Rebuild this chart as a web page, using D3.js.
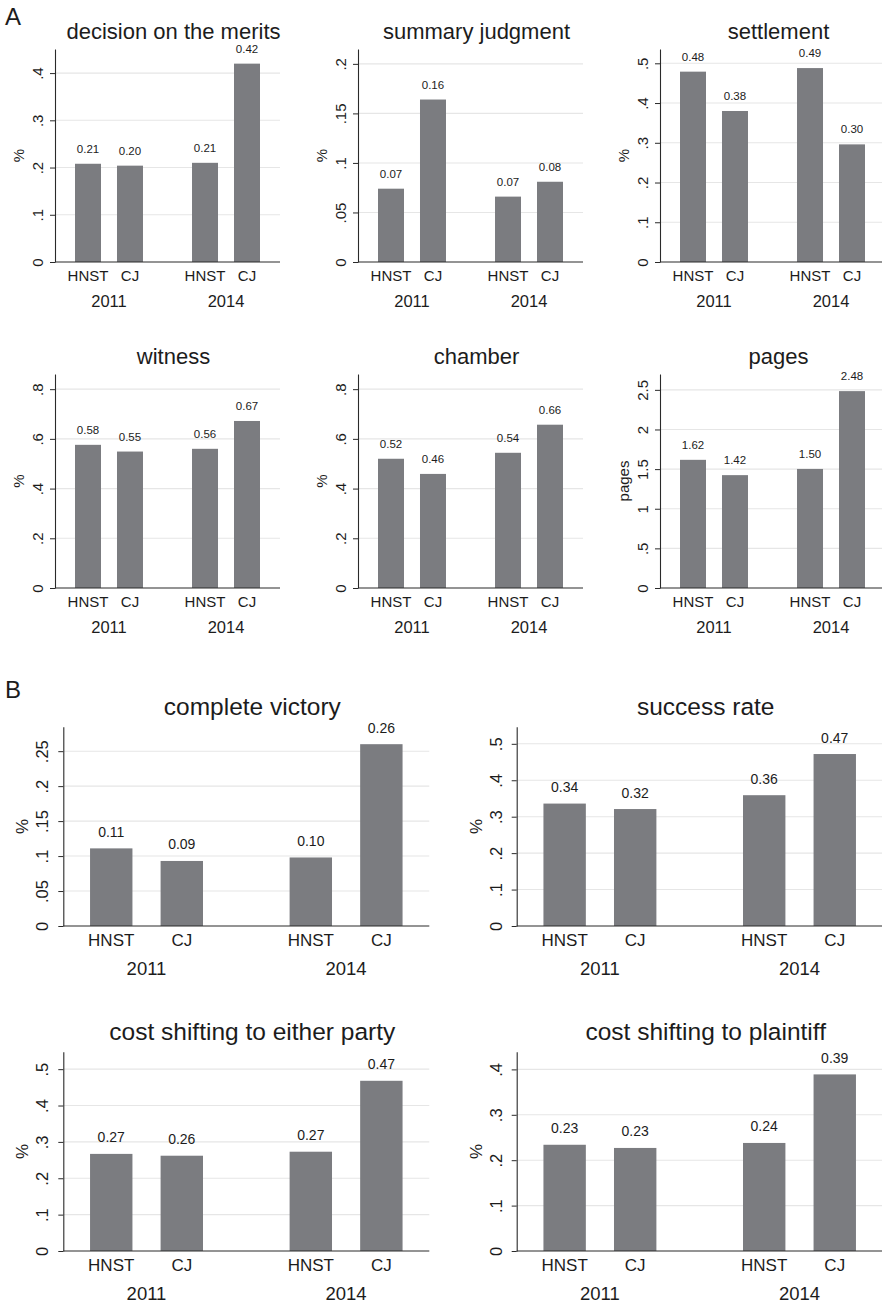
<!DOCTYPE html>
<html>
<head>
<meta charset="utf-8">
<script src="https://cdn.jsdelivr.net/npm/d3@7"></script>
<style>
  body { margin: 0; background: #fff; }
  svg { display: block; font-family: "Liberation Sans", Arial, Helvetica, sans-serif; }
</style>
</head>
<body>
<div id="fig"></div>
<script>
var years = ["2011", "2014"];
var courts = ["HNST", "CJ"];

// panel A: bar order is HNST 2011, CJ 2011, HNST 2014, CJ 2014
var titlesA = ["decision on the merits", "summary judgment", "settlement", "witness", "chamber", "pages"];
var yLabelsA = ["%", "%", "%", "%", "%", "pages"];
var valuesA = [
  [0.208, 0.204, 0.210, 0.420],
  [0.074, 0.164, 0.066, 0.081],
  [0.479, 0.380, 0.488, 0.296],
  [0.576, 0.549, 0.560, 0.672],
  [0.520, 0.459, 0.544, 0.657],
  [1.617, 1.424, 1.502, 2.484]
];
var ticksA = [
  [0, 0.1, 0.2, 0.3, 0.4],
  [0, 0.05, 0.1, 0.15, 0.2],
  [0, 0.1, 0.2, 0.3, 0.4, 0.5],
  [0, 0.2, 0.4, 0.6, 0.8],
  [0, 0.2, 0.4, 0.6, 0.8],
  [0, 0.5, 1, 1.5, 2, 2.5]
];
var yMaxA = [0.451, 0.215, 0.536, 0.861, 0.861, 2.70];

// panel B
var titlesB = ["complete victory", "success rate", "cost shifting to either party", "cost shifting to plaintiff"];
var yLabelsB = ["%", "%", "%", "%"];
var valuesB = [
  [0.111, 0.093, 0.098, 0.260],
  [0.336, 0.321, 0.359, 0.472],
  [0.267, 0.262, 0.273, 0.468],
  [0.234, 0.227, 0.238, 0.389]
];
var ticksB = [
  [0, 0.05, 0.1, 0.15, 0.2, 0.25],
  [0, 0.1, 0.2, 0.3, 0.4, 0.5],
  [0, 0.1, 0.2, 0.3, 0.4, 0.5],
  [0, 0.1, 0.2, 0.3, 0.4]
];
var yMaxB = [0.285, 0.547, 0.548, 0.439];

var W = 882, H = 1305;
var barColor = "#7b7c80", gridColor = "#e6e6e6", axisColor = "#2a2a2a", textColor = "#1c1c1c";

var svg = d3.select("#fig").append("svg")
    .attr("width", W).attr("height", H);

var styleA = { w: 225, title: 22, tick: 15, cat: 15, year: 16.5, value: 11.5, ylab: 15,
    tickOff: 12.5, ylabOff: 31.5, catOff: 19, yearOff: 45, valOff: 11, titleOff: 10.5,
    groupPad: 0.419, outerPad: 0.171, barPad: 0.381 };
var styleB = { w: 366, title: 24.5, tick: 16.5, cat: 17, year: 18.5, value: 14, ylab: 17,
    tickOff: 15, ylabOff: 35, catOff: 20, yearOff: 49.5, valOff: 11.5, titleOff: 11.5,
    groupPad: 0.434, outerPad: 0.134, barPad: 0.399 };

// stata style tick labels: .2, 0, 2.5
function tickFmt(v) {
    if (v === 0) return "0";
    return String(+v.toFixed(2)).replace(/^0\./, ".");
}

function drawChart(x0, y0, h, st, title, ylab, vals, ticks, ymax) {
    var g = svg.append("g").attr("transform", "translate(" + x0 + "," + y0 + ")");
    var w = st.w;

    var y = d3.scaleLinear().domain([0, ymax]).range([h, 0]);
    var xYear = d3.scaleBand().domain(years).range([0, w])
        .paddingInner(st.groupPad).paddingOuter(st.outerPad);
    var xCourt = d3.scaleBand().domain(courts).range([0, xYear.bandwidth()])
        .paddingInner(st.barPad).paddingOuter(0);

    // grid
    g.selectAll("line.grid").data(ticks.filter(function(t) { return t > 0; }))
        .enter().append("line")
        .attr("x1", 0).attr("x2", w)
        .attr("y1", function(d) { return y(d); }).attr("y2", function(d) { return y(d); })
        .attr("stroke", gridColor).attr("stroke-width", 1.1);

    var rows = [];
    years.forEach(function(yr, i) {
        courts.forEach(function(c, j) {
            rows.push({ year: yr, court: c, v: vals[i * 2 + j] });
        });
    });

    g.selectAll("rect.bar").data(rows).enter().append("rect")
        .attr("x", function(d) { return xYear(d.year) + xCourt(d.court); })
        .attr("width", xCourt.bandwidth())
        .attr("y", function(d) { return y(d.v); })
        .attr("height", function(d) { return h - y(d.v); })
        .attr("fill", barColor);

    // value labels
    g.selectAll("text.val").data(rows).enter().append("text")
        .attr("x", function(d) { return xYear(d.year) + xCourt(d.court) + xCourt.bandwidth() / 2; })
        .attr("y", function(d) { return y(d.v) - st.valOff; })
        .attr("text-anchor", "middle")
        .attr("font-size", st.value)
        .attr("fill", textColor)
        .text(function(d) { return d3.format(".2f")(d.v); });

    // y axis
    var ax = g.append("g")
        .call(d3.axisLeft(y).tickValues(ticks).tickSize(5).tickSizeOuter(0).tickFormat(tickFmt));
    ax.select(".domain").attr("stroke", axisColor).attr("stroke-width", 1.1);
    ax.selectAll(".tick line").attr("stroke", axisColor).attr("stroke-width", 1);
    ax.selectAll(".tick text")
        .attr("x", null).attr("dy", null).attr("y", null)
        .attr("text-anchor", "middle")
        .attr("transform", "translate(" + (-st.tickOff) + ",0) rotate(-90)")
        .attr("font-size", st.tick)
        .attr("fill", textColor);
    ax.attr("font-family", null).attr("font-size", null);

    // x axis line
    g.append("line").attr("x1", 0).attr("x2", w).attr("y1", h).attr("y2", h)
        .attr("stroke", axisColor).attr("stroke-width", 1.1);

    // category and year labels
    g.selectAll("text.cat").data(rows).enter().append("text")
        .attr("x", function(d) { return xYear(d.year) + xCourt(d.court) + xCourt.bandwidth() / 2; })
        .attr("y", h + st.catOff)
        .attr("text-anchor", "middle")
        .attr("font-size", st.cat)
        .attr("fill", textColor)
        .text(function(d) { return d.court; });

    g.selectAll("text.year").data(years).enter().append("text")
        .attr("x", function(d) { return xYear(d) + xYear.bandwidth() / 2; })
        .attr("y", h + st.yearOff)
        .attr("text-anchor", "middle")
        .attr("font-size", st.year)
        .attr("fill", textColor)
        .text(function(d) { return d; });

    // y label
    g.append("text")
        .attr("transform", "translate(" + (-st.ylabOff) + "," + (h / 2) + ") rotate(-90)")
        .attr("text-anchor", "middle")
        .attr("font-size", st.ylab)
        .attr("fill", textColor)
        .text(ylab);

    // title
    g.append("text")
        .attr("x", w / 2 + 6).attr("y", -st.titleOff)
        .attr("text-anchor", "middle")
        .attr("font-size", st.title)
        .attr("fill", textColor)
        .text(title);
}

// panel A: 3 x 2
var colsA = [55, 358, 660], rowsA = [[49, 213], [374, 214]];
titlesA.forEach(function(tl, i) {
    var r = rowsA[Math.floor(i / 3)];
    drawChart(colsA[i % 3], r[0], r[1], styleA, tl, yLabelsA[i], valuesA[i], ticksA[i], yMaxA[i]);
});

// panel B: 2 x 2
var colsB = [63.3, 516.7], rowsB = [[726.7, 199.3], [1051.7, 199.3]];
titlesB.forEach(function(tl, i) {
    var r = rowsB[Math.floor(i / 2)];
    drawChart(colsB[i % 2], r[0], r[1], styleB, tl, yLabelsB[i], valuesB[i], ticksB[i], yMaxB[i]);
});

// panel letters
svg.append("text").attr("x", 5).attr("y", 25).attr("font-size", 24).attr("fill", textColor).text("A");
svg.append("text").attr("x", 5).attr("y", 698).attr("font-size", 24).attr("fill", textColor).text("B");
</script>
</body>
</html>
